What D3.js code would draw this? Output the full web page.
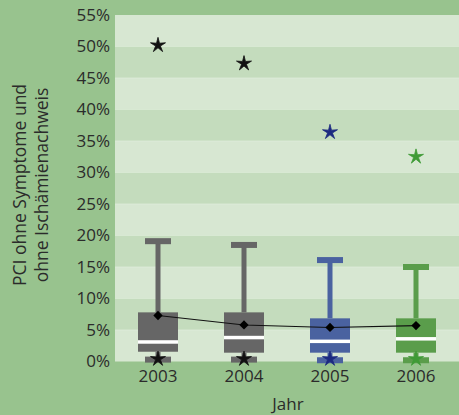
<!DOCTYPE html>
<html>
<head>
<meta charset="utf-8">
<script src="https://cdn.jsdelivr.net/npm/d3@7"></script>
<style>
  html, body { margin: 0; padding: 0; background: #98c38e; }
  svg { display: block; }
  text { font-family: "Open Sans", sans-serif; fill: #2b2b2b; }
</style>
</head>
<body>
<svg id="chart" width="459" height="415"></svg>
<script>
// Jahrgänge und Kennwerte der Verteilung (Anteile in %)
const years = ["2003", "2004", "2005", "2006"];
const whiskerHigh = [19.1, 18.5, 16.1, 15.0];
const q3 = [7.8, 7.8, 6.85, 6.85];
const median = [3.1, 3.8, 3.2, 3.6];
const q1 = [1.55, 1.4, 1.4, 1.4];
const whiskerLow = [0.3, 0.3, 0.2, 0.2];
const means = [7.3, 5.8, 5.4, 5.7];
const extremeHigh = [50.2, 47.3, 36.4, 32.5];
const extremeLow = [0.4, 0.4, 0.4, 0.4];
const boxColors = ["#666666", "#666666", "#4a62a0", "#5a9d4b"];
const starColors = ["#111111", "#111111", "#1c2a80", "#3f9a36"];
const yTicks = [0, 5, 10, 15, 20, 25, 30, 35, 40, 45, 50, 55];

const svg = d3.select("#chart");
const plot = { left: 115, right: 459, top: 15, bottom: 361.5 };

const x = d3.scaleBand().domain(years).range([plot.left, plot.right]).padding(0);
const y = d3.scaleLinear().domain([0, 55]).range([plot.bottom, plot.top]);

// abwechselnd helle und dunklere Bänder je 5 %
const bands = d3.range(0, 55, 5);
svg.append("g").selectAll("rect").data(bands).join("rect")
  .attr("x", plot.left).attr("width", plot.right - plot.left)
  .attr("y", d => y(d + 5)).attr("height", d => y(d) - y(d + 5))
  .attr("fill", (d, i) => i % 2 === 0 ? "#d7e7d2" : "#c4dcbd");
svg.append("g").selectAll("line").data(bands.slice(1)).join("line")
  .attr("x1", plot.left).attr("x2", plot.right)
  .attr("y1", d => y(d)).attr("y2", d => y(d))
  .attr("stroke", "#e2efde").attr("stroke-width", 1).attr("opacity", 0.7);

// y-Achse
const yAxis = svg.append("g")
  .attr("transform", `translate(${plot.left},0)`)
  .call(d3.axisLeft(y).tickValues(yTicks).tickFormat(d => d + "%").tickSize(0).tickPadding(5));
yAxis.select(".domain").remove();
yAxis.selectAll("text").style("font-size", "17px").style("font-family", "'Open Sans', sans-serif").attr("fill", "#2b2b2b");

// x-Achse
const xAxis = svg.append("g")
  .attr("transform", `translate(0,${plot.bottom})`)
  .call(d3.axisBottom(x).tickSize(0).tickPadding(8));
xAxis.select(".domain").remove();
xAxis.selectAll("text").style("font-size", "17px").style("font-family", "'Open Sans', sans-serif").attr("fill", "#2b2b2b");

// Achsentitel
svg.append("text").attr("x", 288).attr("y", 410).attr("text-anchor", "middle")
  .style("font-size", "17px").text("Jahr");
const yTitle = svg.append("text")
  .attr("transform", "translate(31,185) rotate(-90)")
  .attr("text-anchor", "middle").style("font-size", "17.5px");
yTitle.append("tspan").attr("x", 0).attr("dy", "-0.3em").text("PCI ohne Symptome und");
yTitle.append("tspan").attr("x", 0).attr("dy", "1.25em").text("ohne Ischämienachweis");

// Boxplots
const boxW = 40, capW = 26, capH = 6, whiskW = 5;
const g = svg.append("g");
years.forEach((yr, i) => {
  const cx = x(yr) + x.bandwidth() / 2;
  const col = boxColors[i];
  // oberer Whisker
  g.append("rect").attr("x", cx - whiskW / 2).attr("width", whiskW)
    .attr("y", y(whiskerHigh[i])).attr("height", y(q3[i]) - y(whiskerHigh[i])).attr("fill", col);
  g.append("rect").attr("x", cx - capW / 2).attr("width", capW)
    .attr("y", y(whiskerHigh[i]) - capH / 2).attr("height", capH).attr("fill", col);
  // unterer Whisker
  g.append("rect").attr("x", cx - whiskW / 2).attr("width", whiskW)
    .attr("y", y(q1[i])).attr("height", Math.max(0, y(whiskerLow[i]) - y(q1[i]))).attr("fill", col);
  g.append("rect").attr("x", cx - capW / 2).attr("width", capW)
    .attr("y", y(whiskerLow[i]) - capH / 2).attr("height", capH).attr("fill", col);
  // Box
  g.append("rect").attr("x", cx - boxW / 2).attr("width", boxW)
    .attr("y", y(q3[i])).attr("height", y(q1[i]) - y(q3[i])).attr("fill", col);
  // Median
  g.append("rect").attr("x", cx - boxW / 2).attr("width", boxW)
    .attr("y", y(median[i]) - 1.75).attr("height", 3.5).attr("fill", "#ffffff");
});

// Verbindungslinie der Mittelwerte
const meanPts = years.map((yr, i) => [x(yr) + x.bandwidth() / 2, y(means[i])]);
svg.append("path").attr("d", d3.line()(meanPts))
  .attr("fill", "none").attr("stroke", "#111").attr("stroke-width", 1.1);
svg.append("g").selectAll("path").data(meanPts).join("path")
  .attr("transform", d => `translate(${d[0]},${d[1]})`)
  .attr("d", d3.symbol(d3.symbolDiamond2, 55)())
  .attr("fill", "#000");

// Extremwerte als Sterne
const starSym = {
  draw(ctx, size) {
    const r = Math.sqrt(size) * 0.72, ri = r * 0.32;
    for (let k = 0; k < 10; k++) {
      const a = -Math.PI / 2 + k * Math.PI / 5;
      const rr = k % 2 === 0 ? r : ri;
      const px = rr * Math.cos(a), py = rr * Math.sin(a);
      if (k === 0) ctx.moveTo(px, py); else ctx.lineTo(px, py);
    }
    ctx.closePath();
  }
};
const starData = [];
years.forEach((yr, i) => {
  starData.push({ yr, v: extremeHigh[i], c: starColors[i] });
  starData.push({ yr, v: extremeLow[i], c: starColors[i] });
});
svg.append("g").selectAll("path").data(starData).join("path")
  .attr("transform", d => `translate(${x(d.yr) + x.bandwidth() / 2},${y(d.v)})`)
  .attr("d", d3.symbol(starSym, 120)())
  .attr("fill", d => d.c)
  .attr("stroke", d => d.c).attr("stroke-width", 0.8).attr("stroke-linejoin", "round");
</script>
</body>
</html>
